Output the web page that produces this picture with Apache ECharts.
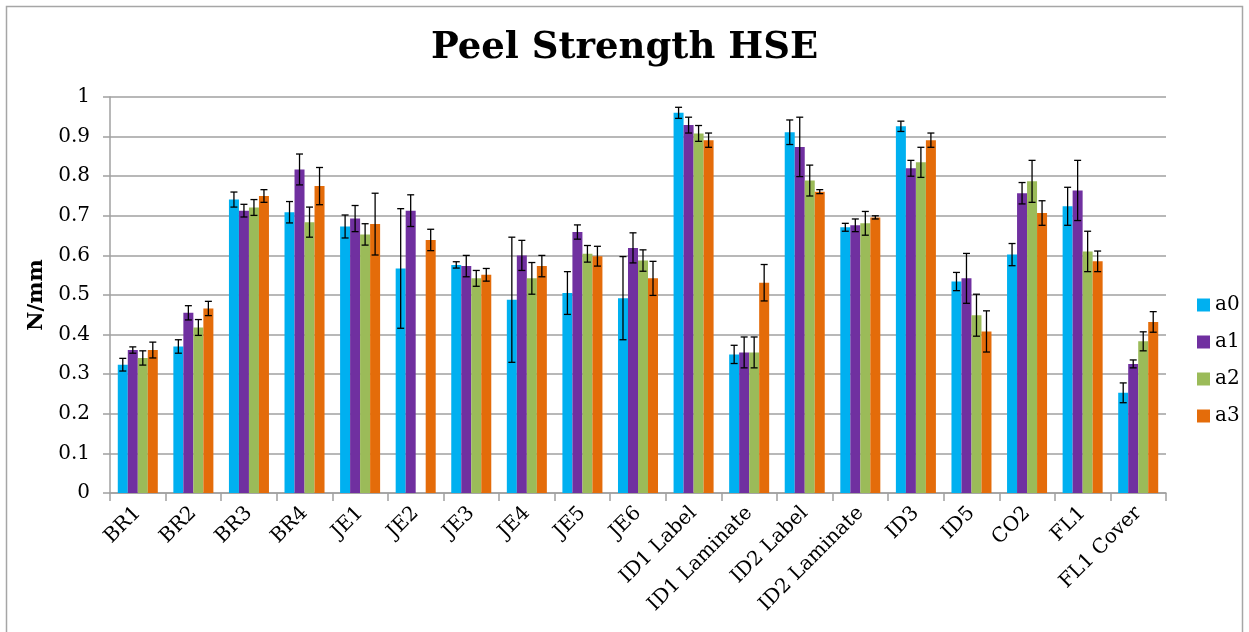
<!DOCTYPE html>
<html>
<head>
<meta charset="utf-8">
<script src="https://cdn.jsdelivr.net/npm/echarts@6/dist/echarts.min.js"></script>
<style>
html,body{margin:0;padding:0;background:#fff;}
#chart{width:1249px;height:632px;}
</style>
</head>
<body>
<div id="chart"></div>
<script>
const categories = ['BR1','BR2','BR3','BR4','JE1','JE2','JE3','JE4','JE5','JE6','ID1 Label','ID1 Laminate','ID2 Label','ID2 Laminate','ID3','ID5','CO2','FL1','FL1 Cover'];
const seriesNames = ['a0','a1','a2','a3'];
const a0 = [0.324,0.370,0.741,0.709,0.673,0.567,0.576,0.488,0.505,0.492,0.960,0.350,0.911,0.671,0.926,0.534,0.602,0.724,0.253];
const e0 = [0.016,0.017,0.019,0.027,0.029,0.151,0.008,0.158,0.054,0.105,0.014,0.023,0.031,0.010,0.013,0.023,0.028,0.048,0.025];
const a1 = [0.361,0.455,0.713,0.817,0.693,0.713,0.573,0.600,0.659,0.619,0.929,0.355,0.874,0.676,0.820,0.542,0.757,0.764,0.326];
const e1 = [0.008,0.018,0.016,0.039,0.033,0.040,0.027,0.038,0.018,0.038,0.020,0.039,0.075,0.016,0.020,0.063,0.027,0.076,0.010];
const a2 = [0.341,0.418,0.721,0.684,0.653,null,0.542,0.542,0.604,0.587,0.908,0.355,0.789,0.681,0.835,0.449,0.787,0.610,0.383];
const e2 = [0.018,0.020,0.020,0.038,0.027,null,0.020,0.040,0.021,0.027,0.020,0.039,0.039,0.030,0.038,0.053,0.053,0.051,0.024];
const a3 = [0.361,0.466,0.750,0.775,0.679,0.639,0.551,0.573,0.598,0.542,0.891,0.531,0.761,0.696,0.891,0.408,0.707,0.585,0.432];
const e3 = [0.020,0.018,0.016,0.047,0.078,0.027,0.016,0.027,0.025,0.043,0.018,0.046,0.005,0.004,0.018,0.052,0.031,0.026,0.026];
const yTicks = ['0','0.1','0.2','0.3','0.4','0.5','0.6','0.7','0.8','0.9','1'];

const values = [a0,a1,a2,a3];
const errors = [e0,e1,e2,e3];
const colors = ['#00B0F0','#7030A0','#9BBB59','#E46C0A'];
const FONT = 'DejaVu Serif';
const CAT_GAP = 0.28;

const chart = echarts.init(document.getElementById('chart'));

const barSeries = seriesNames.map((n,i)=>({
  name:n, type:'bar', data:values[i], barGap:'0%', barCategoryGap:(CAT_GAP*100)+'%',
  itemStyle:{color:colors[i]}, z:2
}));

const errSeries = seriesNames.map((n,s)=>({
  name:'err_'+n, type:'custom', z:5,
  data: values[s].map((v,k)=> (v==null||errors[s][k]==null)? [k,null,null] : [k,v,errors[s][k]]),
  encode:{x:0,y:1},
  renderItem:function(params,api){
    const v = api.value(1), e = api.value(2);
    if (v == null || isNaN(v) || e == null || isNaN(e)) return null;
    const idx = api.value(0);
    const c = api.coord([idx, v]);
    const band = api.size([1,0])[0];
    const bw = band*(1-CAT_GAP)/4;
    const x = c[0] + (s-1.5)*bw;
    const yHi = api.coord([idx, v+e])[1];
    const yLo = api.coord([idx, v-e])[1];
    const cap = 3.5;
    const st = {stroke:'#000', lineWidth:1.3};
    return {type:'group', children:[
      {type:'line', shape:{x1:x,y1:yHi,x2:x,y2:yLo}, style:st},
      {type:'line', shape:{x1:x-cap,y1:yHi,x2:x+cap,y2:yHi}, style:st},
      {type:'line', shape:{x1:x-cap,y1:yLo,x2:x+cap,y2:yLo}, style:st}
    ]};
  }
}));

chart.setOption({
  animation:false,
  backgroundColor:'#fff',
  title:{
    text:'Peel Strength HSE', left:'center', top:25,
    textStyle:{fontFamily:FONT, fontWeight:'bold', fontSize:37, color:'#000'}
  },
  legend:{
    data:seriesNames, orient:'vertical', left:1192, top:290,
    icon:'rect', itemWidth:13, itemHeight:13, itemGap:17, itemStyle:{borderWidth:0},
    textStyle:{fontFamily:FONT, fontSize:20, color:'#000'}
  },
  grid:{left:110, right:83, top:97, bottom:139, containLabel:false},
  xAxis:{
    type:'category', data:categories,
    axisLine:{lineStyle:{color:'#A0A0A0', width:1.5}},
    axisTick:{show:true, length:8, lineStyle:{color:'#A0A0A0', width:1.5}},
    axisLabel:{rotate:45, interval:0, margin:17, fontFamily:FONT, fontSize:20, color:'#000'}
  },
  yAxis:{
    type:'value', min:0, max:1, interval:0.1,
    name:'N/mm', nameLocation:'middle', nameGap:55, nameRotate:90,
    nameTextStyle:{fontFamily:FONT, fontWeight:'bold', fontSize:21, color:'#000'},
    axisLine:{show:true, lineStyle:{color:'#A0A0A0', width:1.5}},
    axisTick:{show:true, length:7, lineStyle:{color:'#A0A0A0', width:1.5}},
    axisLabel:{margin:20, fontFamily:FONT, fontSize:20, color:'#000',
      formatter:function(v){ const i = Math.round(v*10); return yTicks[i]; }},
    splitLine:{show:true, lineStyle:{color:'#A0A0A0', width:1.5}}
  },
  graphic:[{type:'rect', shape:{x:6.5,y:6.5,width:1236,height:700}, style:{fill:null, stroke:'#A6A6A6', lineWidth:1.5}, silent:true, z:-1}],
  series: barSeries.concat(errSeries)
});
</script>
</body>
</html>
